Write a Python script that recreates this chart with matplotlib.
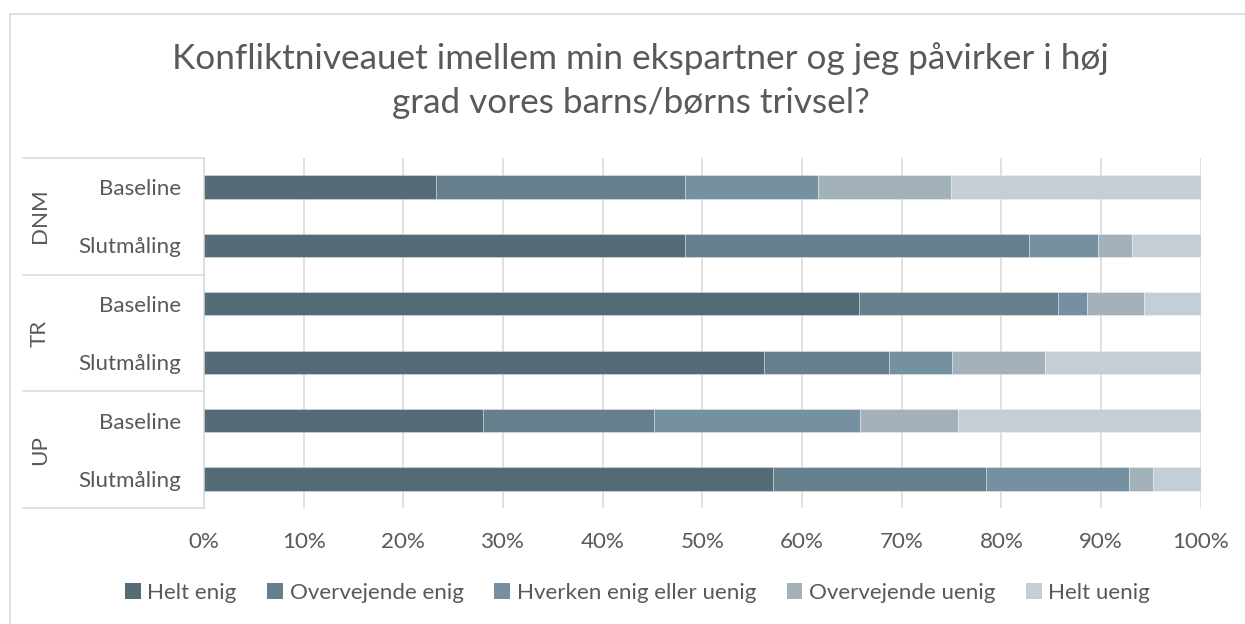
import matplotlib
matplotlib.use("Agg")
import matplotlib.pyplot as plt
from matplotlib.patches import Patch
from matplotlib.lines import Line2D
import matplotlib.transforms as mtransforms

# ---- data ----
groups = ["DNM", "TR", "UP"]
rows = ["Baseline", "Slutmåling", "Baseline", "Slutmåling", "Baseline", "Slutmåling"]
series = ["Helt enig", "Overvejende enig", "Hverken enig eller uenig", "Overvejende uenig", "Helt uenig"]
helt_enig        = [23.3, 48.3, 65.7, 56.2, 28.0, 57.1]
overvejende_enig = [25.0, 34.5, 20.0, 12.5, 17.1, 21.4]
hverken          = [13.3,  6.9,  2.9,  6.3, 20.7, 14.3]
overvejende_uenig= [13.3,  3.4,  5.7,  9.4,  9.8,  2.4]
helt_uenig       = [25.1,  6.9,  5.7, 15.6, 24.4,  4.8]
values = [helt_enig, overvejende_enig, hverken, overvejende_uenig, helt_uenig]
colors = ["#556b78", "#667f8c", "#7490a1", "#a3b1bb", "#c5cdd5"]
xticks = [0, 10, 20, 30, 40, 50, 60, 70, 80, 90, 100]
title1 = "Konfliktniveauet imellem min ekspartner og jeg påvirker i høj"
title2 = "grad vores barns/børns trivsel?"

W, H = 1245, 624
TXT = "#595959"
GRID = "#d9d9d9"
FONT = "Lato"
plt.rcParams['font.family'] = [FONT, 'DejaVu Sans']

fig = plt.figure(figsize=(W/100, H/100), dpi=100)
r = fig.canvas.get_renderer()

def fx(px): return px / W
def fy(py): return 1 - py / H

def size_for(text, target_px, weight="normal"):
    t = fig.text(0, 0, text, fontsize=10, fontweight=weight)
    w = t.get_window_extent(r).width
    t.remove()
    return 10 * target_px / w

fs = size_for("Slutmåling", 102)
fs_title = size_for(title1, 935)

# chart border (left + top visible)
fig.add_artist(Line2D([fx(10), fx(10)], [fy(14), 0], color=GRID, lw=1.2, transform=fig.transFigure))
fig.add_artist(Line2D([fx(10), 1], [fy(14), fy(14)], color=GRID, lw=1.2, transform=fig.transFigure))

x0, x1 = 204, 1200.8
y0, y1 = 157.7, 508.3
ax = fig.add_axes([fx(x0), fy(y1), fx(x1) - fx(x0), (y1 - y0) / H])

ypos = list(range(len(rows)))
left = [0.0] * len(rows)
for s, vals, c in zip(series, values, colors):
    ax.barh(ypos, vals, left=left, height=0.4, color=c, label=s,
            edgecolor=(1, 1, 1, 0.45), linewidth=0.5, zorder=3)
    left = [l + v for l, v in zip(left, vals)]

ax.set_xlim(0, 100)
ax.set_ylim(len(rows) - 0.5, -0.5)
ax.set_xticks(xticks)
ax.set_xticklabels([f"{t}%" for t in xticks])
ax.set_yticks(ypos)
ax.set_yticklabels(rows)
ax.tick_params(axis="both", length=0, colors=TXT, labelsize=fs)
ax.tick_params(axis="y", pad=23 * 0.72)
ax.tick_params(axis="x", pad=24 * 0.72)
ax.grid(axis="x", color=GRID, lw=1.1, zorder=0)
for sp in ["top", "right", "bottom"]:
    ax.spines[sp].set_visible(False)
ax.spines["left"].set_color(GRID)
ax.spines["left"].set_linewidth(1.1)

# multi-level category separators
tr = mtransforms.blended_transform_factory(fig.transFigure, ax.transData)
for yb in [-0.5, 1.5, 3.5, 5.5]:
    fig.add_artist(Line2D([fx(23), fx(x0)], [yb, yb], color=GRID, lw=1.1, transform=tr, clip_on=False))
for i, g in enumerate(groups):
    fig.text(fx(40), 2 * i + 0.5, g, rotation=90, ha="center", va="center",
             fontsize=fs, color=TXT, transform=tr)

# title
fig.text(fx(640.5), fy(69), title1, ha="center", va="baseline", fontsize=fs_title,
         color=TXT)
fig.text(fx(630.5), fy(112.7), title2, ha="center", va="baseline", fontsize=fs_title,
         color=TXT)

# legend
handles = [Patch(facecolor=c, edgecolor="none", label=s) for s, c in zip(series, colors)]
fig.legend(handles=handles, loc="center", bbox_to_anchor=(fx(637.5), fy(593)), ncol=5,
           frameon=False, fontsize=fs, labelcolor=TXT, handlelength=0.7, handleheight=0.7,
           handletextpad=0.3, columnspacing=1.37, borderpad=0)

fig.savefig("out.png", dpi=100)
